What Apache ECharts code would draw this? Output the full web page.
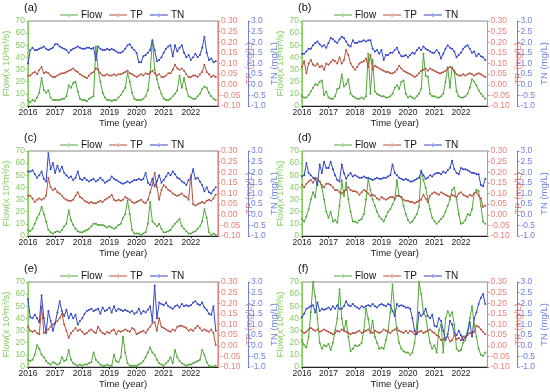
<!DOCTYPE html>
<html><head><meta charset="utf-8">
<script src="https://cdn.jsdelivr.net/npm/echarts@6/dist/echarts.min.js"></script>
<style>html,body{margin:0;padding:0;background:#fff}#c{width:550px;height:392px}</style>
</head><body><div id="c"></div>
<script>
const yearTicks = [2016, 2017, 2018, 2019, 2020, 2021, 2022];
const panelLabels = ['(a)', '(b)', '(c)', '(d)', '(e)', '(f)'];
const seriesNames = ['Flow', 'TP', 'TN'];

const flowA = [5,3,5,4,7,11,23,13,11,13,7,5, 5,5,5,6,6,8,17,15,19,20,12,6, 5,5,4,6,7,8,49,30,20,11,7,5, 5,4,5,5,7,9,12,15,27,20,11,6, 5,5,5,6,8,13,28,54,30,22,15,10, 6,5,5,6,8,10,13,25,15,23,14,8, 7,6,6,8,10,14,16,15,11,8,6,5];
const tpA = [0.043,0.043,0.054,0.060,0.049,0.071,0.083,0.054,0.060,0.054,0.043,0.037, 0.037,0.043,0.049,0.054,0.054,0.060,0.066,0.071,0.077,0.066,0.060,0.049, 0.043,0.037,0.031,0.043,0.054,0.060,0.077,0.071,0.054,0.043,0.043,0.049, 0.043,0.043,0.049,0.043,0.049,0.049,0.054,0.060,0.066,0.054,0.049,0.043, 0.037,0.043,0.049,0.043,0.054,0.049,0.054,0.066,0.054,0.043,0.049,0.037, 0.037,0.043,0.054,0.054,0.071,0.094,0.077,0.071,0.077,0.066,0.049,0.037, 0.037,0.043,0.043,0.037,0.049,0.060,0.094,0.060,0.049,0.037,0.043,0.037];
const tnA = [1.00,1.63,1.74,1.63,1.63,1.69,1.74,1.80,1.69,1.63,1.69,1.74, 1.91,1.91,1.80,1.74,1.69,1.63,1.51,1.63,1.69,1.74,1.80,1.74, 1.69,1.69,1.74,1.74,1.69,1.74,1.17,1.80,1.69,1.63,1.63,1.69, 1.63,1.69,1.63,1.57,1.51,1.51,1.57,1.69,1.86,1.91,1.74,1.63, 1.51,1.06,1.06,1.34,1.40,1.51,1.63,2.09,1.63,1.11,1.17,1.29, 1.51,1.69,1.80,1.86,1.34,1.86,1.57,1.74,1.86,1.51,1.29,1.40, 1.17,1.29,1.46,1.29,1.40,1.74,2.26,1.51,1.17,1.23,1.06,1.11];

const flowB = [8,7,7,9,12,15,18,17,20,21,9,12, 7,6,6,8,14,15,26,16,18,22,10,8, 7,6,6,7,6,8,43,10,38,12,10,9, 8,8,7,7,8,10,15,17,14,20,21,10, 7,8,7,6,8,10,14,43,25,24,10,8, 8,7,7,8,10,20,32,15,32,28,12,8, 7,7,8,10,15,22,20,17,13,10,8,6];
const tpB = [0.083,0.111,0.054,0.100,0.117,0.094,0.089,0.100,0.083,0.089,0.071,0.100, 0.094,0.106,0.117,0.111,0.100,0.129,0.100,0.117,0.163,0.140,0.100,0.083, 0.071,0.083,0.100,0.106,0.111,0.123,0.083,0.140,0.071,0.089,0.083,0.077, 0.071,0.066,0.060,0.060,0.054,0.054,0.060,0.071,0.089,0.077,0.066,0.060, 0.054,0.049,0.043,0.037,0.043,0.054,0.066,0.071,0.077,0.066,0.077,0.071, 0.066,0.060,0.054,0.054,0.060,0.066,0.077,0.083,0.077,0.066,0.049,0.043, 0.043,0.049,0.043,0.049,0.054,0.049,0.043,0.049,0.054,0.049,0.043,0.037];
const tnB = [1.46,1.46,1.57,1.69,1.69,1.86,1.97,2.03,1.91,1.80,1.86,1.74, 1.97,2.20,2.14,2.03,1.97,2.14,2.26,2.20,2.03,1.86,1.80,2.09, 1.97,1.97,2.03,2.03,2.09,2.03,2.09,2.09,1.69,1.57,1.63,1.46, 1.63,1.17,1.40,1.40,1.51,1.51,1.63,1.74,1.51,1.34,1.34,1.40, 1.29,1.40,1.51,1.46,1.63,1.74,1.63,1.80,1.69,1.63,1.57,1.51, 1.51,1.63,1.51,1.23,1.46,1.69,1.86,1.74,1.69,1.57,1.29,1.40, 1.51,1.69,1.80,1.86,1.69,1.51,1.57,1.34,1.46,1.34,1.29,1.17];

const flowC = [5,4,6,10,15,18,24,18,12,5,3,2, 3,4,3,5,8,10,21,13,9,6,4,3, 3,4,5,6,8,10,10,9,9,9,8,7, 8,7,6,7,9,10,15,18,29,18,5,2, 2,2,1,2,3,10,28,12,10,8,10,6, 3,3,4,5,8,10,12,14,8,6,4,2, 2,3,4,6,8,12,22,15,3,1,2,1];
const tpC = [0.089,0.089,0.077,0.060,0.071,0.077,0.071,0.077,0.089,0.174,0.129,0.117, 0.123,0.106,0.100,0.089,0.077,0.071,0.066,0.066,0.071,0.089,0.106,0.083, 0.077,0.066,0.060,0.054,0.060,0.054,0.054,0.060,0.066,0.060,0.071,0.077, 0.083,0.094,0.071,0.066,0.071,0.066,0.071,0.083,0.077,0.071,0.060,0.054, 0.060,0.066,0.071,0.060,0.054,0.071,0.106,0.140,0.197,0.129,0.071,0.117, 0.140,0.129,0.117,0.111,0.100,0.094,0.089,0.094,0.100,0.089,0.083,0.071, 0.186,0.049,0.043,0.049,0.054,0.060,0.054,0.066,0.071,0.066,0.077,0.094];
const tnC = [2.03,2.03,2.09,1.91,1.74,1.86,2.03,1.69,1.57,2.89,2.14,2.43, 1.97,2.31,2.03,2.26,1.97,1.86,1.74,1.80,1.63,1.74,2.03,1.69, 1.63,1.74,1.63,1.57,1.63,1.69,1.57,1.63,1.74,1.63,1.51,1.57, 1.63,1.80,1.69,1.63,1.57,1.51,1.46,1.51,1.57,1.51,1.57,1.63, 1.63,1.69,1.63,1.69,1.97,1.51,1.40,1.69,1.34,1.57,1.86,1.51, 1.63,1.80,1.97,1.86,2.03,1.91,1.74,1.69,1.57,1.51,1.40,1.63, 1.74,2.14,1.69,1.74,1.57,1.40,1.11,1.29,1.06,1.00,1.17,1.29];

const flowD = [14,12,16,22,30,36,32,47,45,40,30,20, 15,20,12,13,11,25,46,33,44,30,20,12, 12,11,13,14,18,30,47,38,30,25,20,16, 14,12,16,20,22,26,30,46,33,32,25,18, 13,11,12,15,18,24,54,46,40,30,22,15, 12,10,12,14,16,20,25,30,38,40,30,18, 10,11,13,18,17,22,35,38,37,25,12,10];
const tpD = [0.140,0.129,0.146,0.157,0.163,0.151,0.174,0.169,0.157,0.140,0.129,0.146, 0.146,0.140,0.129,0.117,0.117,0.106,0.100,0.111,0.117,0.129,0.117,0.111, 0.111,0.106,0.094,0.106,0.117,0.111,0.100,0.089,0.094,0.089,0.077,0.071, 0.083,0.077,0.071,0.077,0.083,0.083,0.077,0.089,0.089,0.083,0.071,0.066, 0.066,0.060,0.060,0.054,0.060,0.066,0.071,0.094,0.077,0.060,0.089,0.100, 0.106,0.100,0.094,0.106,0.100,0.094,0.089,0.083,0.094,0.089,0.083,0.100, 0.106,0.094,0.089,0.083,0.094,0.089,0.100,0.106,0.089,0.077,0.037,0.043];
const tnD = [1.80,1.86,2.43,1.97,1.86,1.74,1.69,1.40,2.37,1.97,2.49,2.20, 2.20,2.49,2.14,1.86,1.63,1.57,2.37,1.97,1.69,1.86,1.97,1.80, 1.86,1.80,1.74,1.74,1.80,1.74,1.74,1.69,1.63,1.69,1.74,1.69, 1.69,1.74,1.74,1.80,1.86,2.37,1.97,1.86,1.74,1.69,1.63,1.69, 1.63,1.57,1.57,1.63,1.69,1.74,2.03,1.86,1.69,1.74,1.86,1.80, 1.91,1.97,1.97,1.91,2.03,1.97,2.09,2.20,2.54,2.14,1.97,1.91, 2.20,2.14,2.14,2.09,2.03,1.97,1.97,1.91,1.91,1.40,1.34,1.69];

const flowE = [6,5,6,10,18,15,10,8,5,3,2,4, 3,2,3,8,5,6,14,6,3,2,1,2, 1,2,2,3,4,12,6,4,2,1,1,2, 1,1,10,5,4,8,25,12,3,1,1,1, 1,2,3,5,8,12,16,12,10,6,3,2, 1,3,5,8,3,14,8,5,3,2,1,2, 2,3,4,5,6,14,10,4,1,0.5,0.5,1];
const tpE = [0.089,0.071,0.066,0.071,0.060,0.054,0.186,0.060,0.071,0.077,0.089,0.100, 0.106,0.117,0.129,0.151,0.100,0.071,0.037,0.060,0.071,0.083,0.071,0.077, 0.066,0.054,0.060,0.071,0.077,0.066,0.060,0.089,0.071,0.060,0.054,0.066, 0.060,0.071,0.077,0.054,0.071,0.066,0.071,0.077,0.071,0.066,0.083,0.077, 0.054,0.060,0.066,0.071,0.060,0.077,0.089,0.106,0.111,0.071,0.129,0.089, 0.083,0.077,0.071,0.066,0.077,0.071,0.089,0.094,0.094,0.089,0.083,0.071, 0.077,0.071,0.083,0.094,0.083,0.071,0.077,0.071,0.066,0.077,0.060,0.003];
const tnE = [2.20,1.34,1.29,1.46,1.29,1.11,2.37,1.29,0.60,1.63,1.17,0.71, 1.06,1.57,2.09,1.63,1.40,1.69,1.29,1.51,1.29,1.46,1.00,1.17, 1.29,1.51,1.63,1.69,1.74,1.63,1.69,1.74,1.51,1.80,1.63,1.69, 1.80,1.57,1.86,1.63,1.74,1.69,1.63,1.69,1.63,1.57,1.63,1.51, 1.57,1.74,1.51,1.63,1.57,1.69,1.86,1.17,2.83,1.29,2.03,1.97, 1.91,2.03,1.86,1.80,1.74,1.86,1.91,1.80,1.97,1.86,1.91,1.86, 1.91,2.03,2.09,1.97,1.91,2.03,1.80,1.69,1.51,1.46,1.86,0.71];

const flowF = [22,18,16,25,45,70,58,40,20,15,18,17, 19,14,20,30,40,64,40,30,38,25,13,15, 18,17,18,20,30,48,40,28,38,25,20,15, 16,15,22,30,45,68,45,30,20,15,13,12, 12,10,12,20,35,70,60,45,42,30,20,15, 18,12,30,35,12,40,46,42,45,35,15,13, 14,20,22,30,40,50,35,25,15,10,9,12];
const tpF = [0.071,0.060,0.066,0.077,0.083,0.077,0.071,0.077,0.066,0.071,0.077,0.071, 0.066,0.060,0.054,0.060,0.071,0.066,0.077,0.071,0.066,0.060,0.054,0.060, 0.060,0.066,0.071,0.060,0.066,0.071,0.077,0.066,0.060,0.071,0.066,0.060, 0.066,0.077,0.071,0.066,0.060,0.071,0.077,0.083,0.071,0.066,0.060,0.071, 0.060,0.071,0.066,0.054,0.060,0.066,0.071,0.060,0.066,0.071,0.077,0.066, 0.060,0.049,0.043,0.026,0.031,0.037,0.043,0.020,0.026,0.049,0.031,0.037, 0.026,0.043,0.037,0.049,0.060,0.054,0.066,0.094,0.089,0.077,0.066,0.054];
const tnF = [1.34,1.51,1.74,1.80,1.86,1.91,1.57,2.03,1.63,1.74,1.69,1.74, 1.80,1.69,1.86,1.74,1.91,1.74,1.74,1.86,2.09,1.91,1.86,1.97, 1.86,1.80,1.74,1.86,1.80,1.86,1.91,1.86,1.97,1.86,1.80,1.91, 1.97,1.91,1.86,1.97,1.91,1.63,1.40,1.97,1.86,1.91,1.86,1.80, 1.80,1.74,1.29,0.71,0.54,1.57,1.40,1.51,1.74,1.40,1.29,1.46, 0.94,0.89,1.29,1.17,0.71,0.26,0.54,1.17,1.00,0.60,0.49,0.71, 0.49,0.26,0.43,0.60,1.11,0.43,1.29,1.57,1.97,2.26,2.43,1.97];

// monthly time positions (decimal years) from the year list
const monthPos = [];
yearTicks.forEach(y => { for (let m = 0; m < 12; m++) monthPos.push(y + m / 12); });

const panels = [
  {label: panelLabels[0], flow: flowA, tp: tpA, tn: tnA, left: 28, top: 21},
  {label: panelLabels[1], flow: flowB, tp: tpB, tn: tnB, left: 302, top: 21},
  {label: panelLabels[2], flow: flowC, tp: tpC, tn: tnC, left: 28, top: 151},
  {label: panelLabels[3], flow: flowD, tp: tpD, tn: tnD, left: 302, top: 151},
  {label: panelLabels[4], flow: flowE, tp: tpE, tn: tnE, left: 28, top: 282},
  {label: panelLabels[5], flow: flowF, tp: tpF, tn: tnF, left: 302, top: 282}
];

const W = 190, H = 85;
const FONT = 'Liberation Sans, Arial, sans-serif';
const C_FLOW = '#52a83a', C_TP = '#b5533e', C_TN = '#3347c8';
const C_FLOW_AX = '#86cc63', C_TP_AX = '#e8837a', C_TN_AX = '#6f80e0';
const TICK_FS = 8.5, NAME_FS = 9.5;
const LEG_ICON = 'path://M0,1L18,1L18,2L0,2Z M7.5,1.5a1.5,1.5 0 1,0 3,0a1.5,1.5 0 1,0 -3,0Z';

const grid = [], xAxis = [], yAxis = [], series = [], legend = [], graphic = [];
const pair = arr => arr.map((v, i) => [monthPos[i], v]);

panels.forEach((p, k) => {
  grid.push({left: p.left, top: p.top, width: W, height: H, show: true, borderColor: '#8a8a8a', borderWidth: 1, containLabel: false});
  xAxis.push({
    type: 'value', gridIndex: k, min: yearTicks[0], max: yearTicks[yearTicks.length - 1] + 1, interval: 1,
    axisLine: {lineStyle: {color: '#222', width: 1}},
    axisTick: {show: true, length: 2, lineStyle: {color: '#222'}},
    axisLabel: {color: '#222', fontSize: TICK_FS, fontFamily: FONT, margin: 2, showMaxLabel: false,
      formatter: v => (yearTicks.indexOf(v) >= 0 ? String(v) : '')},
    splitLine: {show: false},
    name: 'Time (year)', nameLocation: 'middle', nameGap: 11,
    nameTextStyle: {color: '#222', fontSize: NAME_FS, fontFamily: FONT}
  });
  yAxis.push({
    type: 'value', gridIndex: k, position: 'left', min: 0, max: 70, interval: 10,
    axisLine: {show: true, lineStyle: {color: C_FLOW_AX}},
    axisTick: {show: true, length: 2, lineStyle: {color: C_FLOW_AX}},
    axisLabel: {color: C_FLOW_AX, fontSize: TICK_FS, fontFamily: FONT, margin: 3},
    splitLine: {show: false},
    name: 'Flow(x 10³m³/s)', nameLocation: 'middle', nameGap: 15, nameRotate: 90,
    nameTextStyle: {color: C_FLOW_AX, fontSize: NAME_FS, fontFamily: FONT}
  });
  yAxis.push({
    type: 'value', gridIndex: k, position: 'right', offset: 0, min: -0.1, max: 0.3, interval: 0.05,
    axisLine: {show: true, lineStyle: {color: C_TP_AX}},
    axisTick: {show: true, length: 2, lineStyle: {color: C_TP_AX}},
    axisLabel: {color: C_TP_AX, fontSize: TICK_FS, fontFamily: FONT, margin: 3, formatter: v => v.toFixed(2)},
    splitLine: {show: false},
    name: 'TP (mg/L)', nameLocation: 'middle', nameGap: 19, nameRotate: 90,
    nameTextStyle: {color: C_TP_AX, fontSize: NAME_FS, fontFamily: FONT}
  });
  yAxis.push({
    type: 'value', gridIndex: k, position: 'right', offset: 30, min: -1, max: 3, interval: 0.5,
    axisLine: {show: true, lineStyle: {color: C_TN_AX}},
    axisTick: {show: true, length: 2, lineStyle: {color: C_TN_AX}},
    axisLabel: {color: C_TN_AX, fontSize: TICK_FS, fontFamily: FONT, margin: 3, formatter: v => v.toFixed(1)},
    splitLine: {show: false},
    name: 'TN (mg/L)', nameLocation: 'middle', nameGap: 18, nameRotate: 90,
    nameTextStyle: {color: C_TN_AX, fontSize: NAME_FS, fontFamily: FONT}
  });
  const mk = (name, data, yi, color) => ({
    name, type: 'line', xAxisIndex: k, yAxisIndex: yi, data: pair(data),
    symbol: 'circle', symbolSize: 2, showSymbol: true,
    lineStyle: {color, width: 1}, itemStyle: {color}, emphasis: {disabled: true}, animation: false
  });
  series.push(mk(seriesNames[0], p.flow, 3 * k, C_FLOW));
  series.push(mk(seriesNames[1], p.tp, 3 * k + 1, C_TP));
  series.push(mk(seriesNames[2], p.tn, 3 * k + 2, C_TN));
  legend.push({
    data: seriesNames.map(n => ({name: n, icon: LEG_ICON})), left: p.left + 32, top: p.top - 11,
    itemWidth: 18, itemHeight: 3, itemGap: 7,
    selectedMode: false, textStyle: {fontSize: 10, fontFamily: FONT, color: '#111', padding: [0, 0, 0, -2]}, padding: 0
  });
  graphic.push({type: 'text', left: p.left - 4, top: p.top - 19,
    style: {text: p.label, font: '11px ' + FONT, fill: '#111'}});
});

const chart = echarts.init(document.getElementById('c'), null, {renderer: 'canvas'});
chart.setOption({animation: false, backgroundColor: '#fff', grid, xAxis, yAxis, series, legend, graphic});
</script></body></html>
